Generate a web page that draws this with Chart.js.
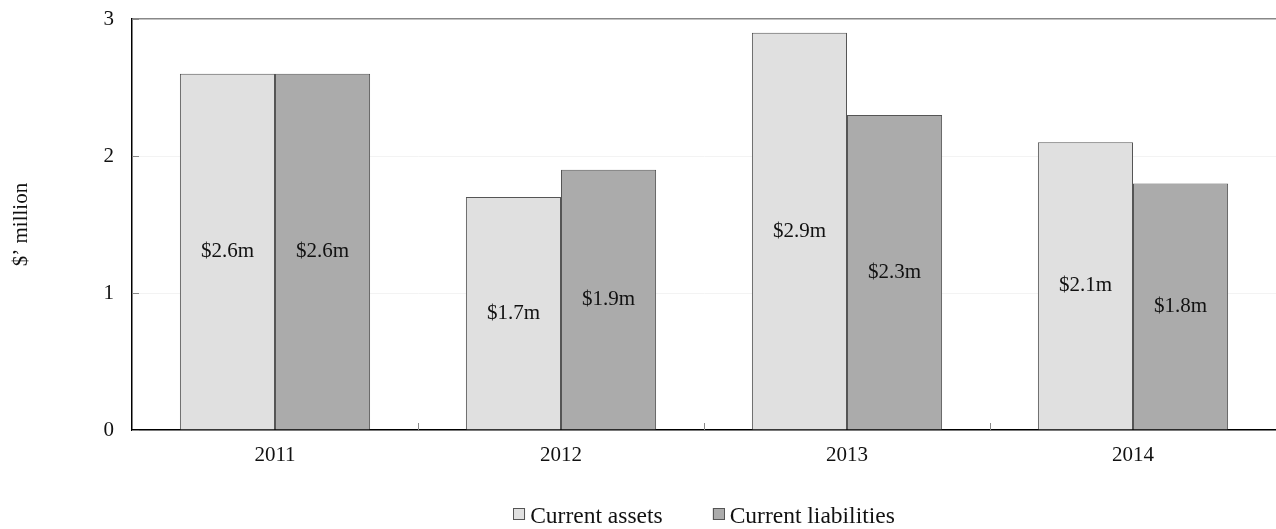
<!DOCTYPE html>
<html>
<head>
<meta charset="utf-8">
<script src="https://cdn.jsdelivr.net/npm/chart.js@4/dist/chart.umd.min.js"></script>
<style>
  html, body { margin: 0; padding: 0; background: #fff; }
  #wrap { width: 1276px; height: 529px; }
</style>
</head>
<body>
<div id="wrap"><canvas id="balanceChart"></canvas></div>
<script>
// Year-end balances, $ million
const years = ["2011", "2012", "2013", "2014"];
const currentAssets = [2.6, 1.7, 2.9, 2.1];
const currentLiabilities = [2.6, 1.9, 2.3, 1.8];
const yTicks = [0, 1, 2, 3];

const serif = "'Liberation Serif', 'Times New Roman', serif";

// Writes "$x.xm" in the middle of every bar
const barLabels = {
    id: "barLabels",
    afterDatasetsDraw(chart) {
        const ctx = chart.ctx;
        ctx.save();
        ctx.font = "21px " + serif;
        ctx.fillStyle = "#111";
        ctx.textAlign = "center";
        ctx.textBaseline = "middle";
        chart.data.datasets.forEach((ds, i) => {
            chart.getDatasetMeta(i).data.forEach((bar, j) => {
                const v = ds.data[j];
                ctx.fillText("$" + v.toFixed(1) + "m", bar.x, (bar.y + bar.base) / 2);
            });
        });
        ctx.restore();
    }
};

// Short inward tick marks on both axes
const innerTicks = {
    id: "innerTicks",
    afterDraw(chart) {
        const ctx = chart.ctx;
        const area = chart.chartArea;
        const x = chart.scales.x;
        const y = chart.scales.y;
        ctx.save();
        ctx.strokeStyle = "#888";
        ctx.lineWidth = 1;
        ctx.beginPath();
        yTicks.forEach(t => {
            const py = Math.round(y.getPixelForValue(t)) + 0.5;
            ctx.moveTo(area.left, py);
            ctx.lineTo(area.left + 7, py);
        });
        for (let i = 0; i < years.length - 1; i++) {
            const px = Math.round((x.getPixelForValue(i) + x.getPixelForValue(i + 1)) / 2) + 0.5;
            ctx.moveTo(px, area.bottom);
            ctx.lineTo(px, area.bottom - 7);
        }
        ctx.stroke();
        ctx.restore();
    }
};

// Legend drawn under the x labels: small square, short gap, then the name
const bottomLegend = {
    id: "bottomLegend",
    afterDraw(chart) {
        const ctx = chart.ctx;
        const area = chart.chartArea;
        const box = 12, gap = 5, spacing = 50;
        ctx.save();
        ctx.font = "23.5px " + serif;
        const items = chart.data.datasets.map(ds => ({
            text: ds.label,
            fill: ds.backgroundColor,
            w: box + gap + ctx.measureText(ds.label).width
        }));
        const total = items.reduce((s, it) => s + it.w, 0) + spacing * (items.length - 1);
        let x = (area.left + area.right) / 2 - total / 2;
        const cy = chart.height - 12;
        ctx.textBaseline = "middle";
        ctx.textAlign = "left";
        items.forEach(it => {
            ctx.fillStyle = it.fill;
            ctx.fillRect(x, cy - box / 2 - 3, box, box);
            ctx.strokeStyle = "#555";
            ctx.lineWidth = 1;
            ctx.strokeRect(Math.round(x) + 0.5, Math.round(cy - box / 2 - 3) + 0.5, box - 1, box - 1);
            ctx.fillStyle = "#111";
            ctx.fillText(it.text, x + box + gap, cy);
            x += it.w + spacing;
        });
        ctx.restore();
    }
};

new Chart(document.getElementById("balanceChart"), {
    type: "bar",
    data: {
        labels: years,
        datasets: [
            {
                label: "Current assets",
                data: currentAssets,
                backgroundColor: "#e0e0e0",
                borderColor: "#555",
                borderWidth: 1,
                categoryPercentage: 0.665,
                barPercentage: 1
            },
            {
                label: "Current liabilities",
                data: currentLiabilities,
                backgroundColor: "#ababab",
                borderColor: "#555",
                borderWidth: 1,
                categoryPercentage: 0.665,
                barPercentage: 1
            }
        ]
    },
    options: {
        responsive: true,
        maintainAspectRatio: false,
        animation: false,
        layout: { padding: 0 },
        plugins: {
            tooltip: { enabled: false },
            legend: { display: false }
        },
        scales: {
            x: {
                grid: { display: false, drawTicks: false },
                border: { display: true, color: "#000", width: 1.5 },
                ticks: { font: { family: serif, size: 21 }, color: "#111", padding: 13 },
                afterFit(scale) { scale.height = 99; }
            },
            y: {
                min: 0,
                max: 3,
                ticks: {
                    stepSize: 1,
                    font: { family: serif, size: 21 },
                    color: "#111",
                    padding: 18
                },
                grid: {
                    drawTicks: false,
                    color: ctx => ctx.tick && ctx.tick.value === 3 ? "#888" : "#f3f3f3",
                    lineWidth: ctx => ctx.tick && ctx.tick.value === 3 ? 1.5 : 1
                },
                border: { display: true, color: "#000", width: 1.5 },
                title: {
                    display: true,
                    text: "$’ million",
                    font: { family: serif, size: 21 },
                    color: "#111",
                    padding: { top: 9, bottom: 0 }
                },
                afterFit(scale) {
                    scale.width = 132;
                    scale.paddingTop = 19;
                    scale.paddingBottom = 0;
                }
            }
        }
    },
    plugins: [barLabels, innerTicks, bottomLegend]
});
</script>
</body>
</html>
